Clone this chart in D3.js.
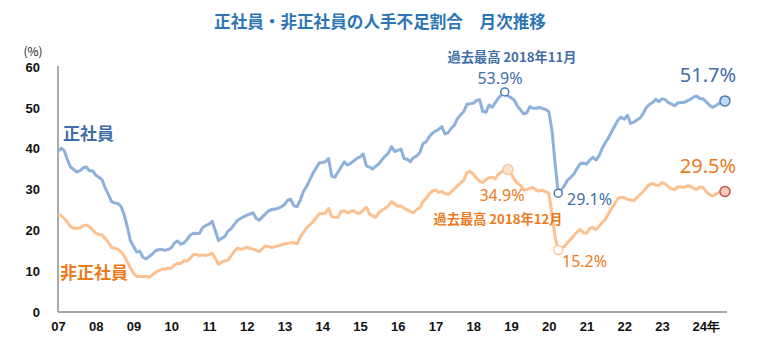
<!DOCTYPE html>
<html><head><meta charset="utf-8">
<script src="https://cdn.jsdelivr.net/npm/d3@7/dist/d3.min.js"></script>
<style>
body{margin:0;background:#fff;}
svg{display:block;font-family:"Noto Sans CJK JP","Noto Sans",sans-serif;}
</style></head><body>
<svg id="c" width="780" height="342"></svg>
<script>
// Monthly values, Jan 2007 - Sep 2024
const regular = [
 39.3,40.1,39.5,37.3,35.5,34.9,34.3,34.6,35.3,35.5,34.6,34.6, // 2007
 33.5,33.0,32.4,30.4,28.8,27.1,26.7,26.6,25.9,23.9,21.0,17.5, // 2008
 16.1,14.7,14.9,13.4,13.0,13.6,14.2,15.0,15.3,15.3,15.1,15.3, // 2009
 15.7,16.9,17.4,16.6,16.9,17.7,18.8,19.3,19.2,19.3,20.7,21.2, // 2010
 21.5,22.2,19.9,17.5,18.0,18.5,19.8,20.4,21.4,22.4,22.9,23.3, // 2011
 23.7,24.0,24.3,22.9,22.5,23.3,24.1,24.8,25.1,25.2,25.4,25.8, // 2012
 26.3,27.4,27.6,26.0,25.8,27.4,29.5,30.7,32.3,33.9,35.2,36.5, // 2013
 36.6,36.8,37.6,33.3,33.0,34.3,35.5,36.8,36.0,36.4,37.0,37.6, // 2014
 38.0,38.7,35.8,35.5,35.0,35.7,36.3,37.3,38.2,38.9,40.5,39.3, // 2015
 39.6,39.9,37.6,37.4,36.8,37.8,38.2,39.0,41.2,41.7,42.9,43.8, // 2016
 44.3,44.7,45.4,43.6,43.9,45.0,45.8,47.4,48.3,49.1,50.9,51.0, // 2017
 51.1,51.8,52.0,49.1,48.9,50.7,50.1,51.3,52.4,53.2,53.9,52.9, // 2018
 52.5,51.9,50.5,49.5,48.5,48.8,50.3,49.9,49.9,50.1,49.8,49.6, // 2019
 49.1,44.6,36.4,29.1,29.9,31.0,32.3,33.0,33.8,35.2,36.3,36.5, // 2020
 36.2,37.2,37.9,37.2,38.3,40.1,41.5,42.7,44.2,45.6,47.0,47.7, // 2021
 47.2,48.2,46.2,46.5,47.0,47.5,48.6,50.0,50.8,51.3,52.1,51.5, // 2022
 52.2,52.0,51.3,50.9,50.5,51.2,51.3,51.3,51.7,52.1,52.6,52.9, // 2023
 52.3,52.2,51.5,50.7,50.1,50.5,51.0,51.3,51.7                 // 2024
];
const nonRegular = [
 23.8,23.6,22.9,22.0,20.9,20.5,20.5,20.6,21.1,21.3,20.9,20.1, // 2007
 19.3,19.0,18.9,18.0,17.1,15.8,15.6,15.4,14.8,13.8,12.3,10.8, // 2008
 9.5,8.7,8.7,8.7,8.7,8.5,9.1,9.7,10.1,10.5,10.5,10.7,         // 2009
 10.7,11.5,11.9,11.9,12.5,12.5,13.1,14.1,14.1,13.8,14.0,13.8, // 2010
 14.0,14.4,13.1,11.7,12.2,12.5,12.7,13.8,14.8,15.6,15.4,15.5, // 2011
 15.8,15.6,15.4,15.1,14.8,15.5,16.2,16.0,15.8,16.0,16.2,16.4, // 2012
 16.7,16.8,17.0,16.9,16.7,18.4,19.5,20.5,21.3,22.1,23.0,24.0, // 2013
 24.1,24.2,25.4,23.3,23.2,23.2,24.6,24.8,24.3,24.6,24.8,24.2, // 2014
 24.2,25.0,25.6,24.0,23.5,23.2,24.4,24.9,25.4,26.0,27.0,26.5, // 2015
 25.9,26.0,25.4,25.0,24.6,24.3,25.1,25.5,27.0,27.8,28.9,29.6, // 2016
 29.9,29.3,29.5,29.0,28.8,29.4,30.2,30.9,31.6,32.3,34.2,34.4, // 2017
 33.8,32.8,32.0,31.7,32.4,32.9,33.0,32.6,33.8,34.3,34.6,34.9, // 2018
 34.0,32.5,31.6,31.0,29.9,30.0,30.3,30.5,29.8,29.6,29.9,29.4, // 2019
 29.1,24.2,18.4,15.2,15.6,16.1,17.0,17.8,18.8,19.6,20.2,19.4, // 2020
 19.3,20.4,20.7,20.2,21.0,21.9,22.7,24.1,25.4,26.6,27.8,28.1, // 2021
 28.0,27.6,27.4,27.3,28.0,28.8,29.5,30.4,31.2,31.5,31.1,31.0, // 2022
 31.7,31.4,30.7,30.2,29.9,30.7,30.6,30.5,30.9,30.8,30.3,30.0, // 2023
 30.6,30.5,29.5,28.8,28.4,28.8,29.2,29.5,29.5                 // 2024
];
const yTicks = [0,10,20,30,40,50,60];
const yearTicks = ["07","08","09","10","11","12","13","14","15","16","17","18","19","20","21","22","23","24年"];
const regularLabel = "正社員", nonRegularLabel = "非正社員";
const title = "正社員・非正社員の人手不足割合　月次推移";
const peakRegular = {i:142, v:53.9, note:"過去最高 2018年11月", text:"53.9%"};
const peakNon = {i:143, v:34.9, note:"過去最高 2018年12月", text:"34.9%"};
const lowRegular = {i:159, v:29.1, text:"29.1%"};
const lowNon = {i:159, v:15.2, text:"15.2%"};
const lastRegularText = "51.7%", lastNonText = "29.5%";

const svg = d3.select("#c");
const x = d3.scaleLinear().domain([0, 204]).range([58, 699.8]);
const y = d3.scaleLinear().domain([0, 60]).range([312, 67]);

svg.append("text").attr("x",380).attr("y",28).attr("text-anchor","middle")
  .attr("font-size",16.6).attr("font-weight","bold").attr("fill","#2e75b6").text(title);

svg.append("text").attr("x",33).attr("y",56).attr("text-anchor","middle")
  .attr("font-size",12).attr("fill","#222").text("(%)");

// y axis
const ya = d3.axisLeft(y).tickValues(yTicks).tickSize(0).tickPadding(0);
const gy = svg.append("g").attr("transform","translate(40,0)").call(ya);
gy.select(".domain").remove();
gy.selectAll("text").attr("font-size",13).attr("font-weight","bold").attr("fill","#111")
  .attr("font-family","'Liberation Sans',Arial,sans-serif");
svg.append("line").attr("x1",58).attr("x2",58).attr("y1",y(60)-1).attr("y2",y(0))
  .attr("stroke","#555").attr("stroke-width",1);

// x axis
const xa = d3.axisBottom(x).tickValues(d3.range(yearTicks.length).map(d=>d*12))
  .tickFormat((d,i)=>yearTicks[i]).tickSize(0).tickPadding(0);
const gx = svg.append("g").attr("transform","translate(0,322)").call(xa);
gx.select(".domain").remove();
gx.selectAll("text").attr("font-size",13).attr("font-weight","bold").attr("fill","#111")
  .attr("font-family","'Liberation Sans',Arial,sans-serif")
  .attr("dx",(d,i)=> i===yearTicks.length-1 ? 6 : 0);
svg.append("line").attr("x1",58).attr("x2",727).attr("y1",y(0)).attr("y2",y(0))
  .attr("stroke","#a6a6a6").attr("stroke-width",2);

const line = d3.line().x((d,i)=>x(i)).y(d=>y(d)).curve(d3.curveLinear);
svg.append("path").datum(nonRegular).attr("d",line).attr("fill","none")
  .attr("stroke","#fdc08f").attr("stroke-width",3).attr("stroke-linejoin","round");
svg.append("path").datum(regular).attr("d",line).attr("fill","none")
  .attr("stroke","#8eb1db").attr("stroke-width",3).attr("stroke-linejoin","round");

const blueT = "#3f6ea8", orangeT = "#ec7a1c";
// series labels
svg.append("text").attr("x",63).attr("y",140).attr("font-size",17).attr("font-weight","bold")
  .attr("fill",blueT).text(regularLabel);
svg.append("text").attr("x",60).attr("y",279).attr("font-size",17).attr("font-weight","bold")
  .attr("fill",orangeT).text(nonRegularLabel);

// markers
function marker(i,v,fill,stroke,r){
  svg.append("circle").attr("cx",x(i)).attr("cy",y(v)).attr("r",r)
    .attr("fill",fill).attr("stroke",stroke).attr("stroke-width",1.5);
}
marker(peakRegular.i,peakRegular.v,"#fff","#4a7ebb",4);
marker(lowRegular.i,lowRegular.v,"#fff","#4a7ebb",4);
marker(regular.length-1,regular[regular.length-1],"#c6d9f1","#4a7ebb",5);
marker(peakNon.i,peakNon.v,"#fde3cf","#fbc79c",5);
marker(lowNon.i,lowNon.v,"#fff","#fbc79c",4.5);
marker(nonRegular.length-1,nonRegular[nonRegular.length-1],"#f9cdb0","#c0504d",5);

const numFont = "'Noto Sans','Open Sans',sans-serif";
// annotations
svg.append("text").attr("x",512).attr("y",62).attr("text-anchor","middle").attr("font-size",13.2)
  .attr("font-weight","bold").attr("fill",blueT).text(peakRegular.note);
svg.append("text").attr("x",500).attr("y",84).attr("text-anchor","middle").attr("font-size",16)
  .attr("fill",blueT).attr("font-family",numFont).text(peakRegular.text);
svg.append("text").attr("x",708).attr("y",82).attr("text-anchor","middle").attr("font-size",20)
  .attr("fill",blueT).attr("font-family",numFont).text(lastRegularText);
svg.append("text").attr("x",708).attr("y",173).attr("text-anchor","middle").attr("font-size",20)
  .attr("fill",orangeT).attr("font-family",numFont).text(lastNonText);
svg.append("text").attr("x",567).attr("y",205).attr("font-size",16)
  .attr("fill",blueT).attr("font-family",numFont).text(lowRegular.text);
svg.append("text").attr("x",502).attr("y",201).attr("text-anchor","middle").attr("font-size",16)
  .attr("fill",orangeT).attr("font-family",numFont).text(peakNon.text);
svg.append("text").attr("x",498).attr("y",224).attr("text-anchor","middle").attr("font-size",13.2)
  .attr("font-weight","bold").attr("fill",orangeT).text(peakNon.note);
svg.append("text").attr("x",562).attr("y",267).attr("font-size",16)
  .attr("fill",orangeT).attr("font-family",numFont).text(lowNon.text);
</script></body></html>
